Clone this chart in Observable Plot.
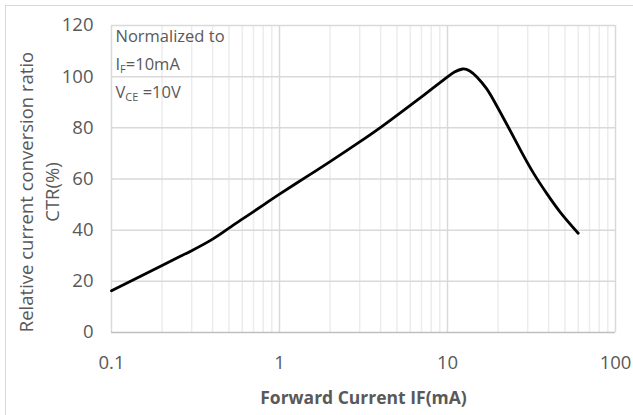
<!DOCTYPE html>
<html>
<head>
<meta charset="utf-8">
<script src="https://cdn.jsdelivr.net/npm/d3@7"></script>
<script src="https://cdn.jsdelivr.net/npm/@observablehq/plot@0.6"></script>
<style>
  html, body { margin: 0; padding: 0; background: #fff; }
  #wrap { position: relative; width: 633px; height: 415px; overflow: hidden; background: #fff; }
  #frame { position: absolute; left: 5px; top: 5px; width: 700px; height: 500px;
           border-left: 1.5px solid #d9d9d9; border-top: 1.5px solid #d9d9d9; }
  #chart { position: absolute; left: 0; top: 0; }
</style>
</head>
<body>
<div id="wrap"><div id="frame"></div><div id="chart"></div></div>
<script>
// Forward current IF (mA)
const current = [0.1, 0.15, 0.2, 0.25, 0.3, 0.4, 0.5, 0.6, 0.8, 1, 1.5, 2, 3, 4, 5, 6, 8, 10, 11, 12.3, 13.5, 15, 17, 19, 22.7, 27.2, 32.7, 39.3, 47.2, 60];
// Relative CTR (%)
const ctr = [16.3, 22.1, 26.2, 29.4, 32.0, 36.5, 40.8, 44.3, 49.8, 54.1, 61.5, 66.8, 74.5, 80.2, 84.9, 88.8, 95.0, 99.9, 101.8, 103.0, 102.3, 99.8, 95.5, 90.3, 81.0, 71.3, 62.0, 54.0, 46.8, 38.8];

const xTicks = [0.1, 1, 10, 100];
const xTickLabels = ["0.1", "1", "10", "100"];
const yTicks = [0, 20, 40, 60, 80, 100, 120];
const minorX = [0.2,0.3,0.4,0.5,0.6,0.7,0.8,0.9, 2,3,4,5,6,7,8,9, 20,30,40,50,60,70,80,90];

const xTitle = "Forward Current IF(mA)";
const yTitle = "Relative current conversion ratio\nCTR(%)";
const noteLines = ["Normalized to", "IF=10mA", "VCE =10V"];

const data = current.map((c, i) => ({c, v: ctr[i]}));
const font = "'Open Sans', 'Segoe UI', sans-serif";
const grey = "#595959";

const chart = Plot.plot({
  width: 633,
  height: 415,
  marginLeft: 111,
  marginRight: 18,
  marginTop: 25,
  marginBottom: 83,
  style: {fontFamily: font, fontSize: "18px", background: "transparent", color: grey},
  x: {type: "log", domain: [0.1, 100], axis: null},
  y: {domain: [0, 120], axis: null},
  marks: [
    Plot.ruleX(minorX, {stroke: "#ececec", strokeWidth: 1.5}),
    Plot.ruleX(xTicks, {stroke: "#d9d9d9", strokeWidth: 1.5}),
    Plot.ruleY(yTicks.filter(d => d > 0), {stroke: "#d9d9d9", strokeWidth: 1.5}),
    Plot.ruleY([0], {stroke: "#bfbfbf", strokeWidth: 1.5}),
    // tick labels
    Plot.text(xTicks, {x: d => d, frameAnchor: "bottom", dy: 31, text: d => xTickLabels[xTicks.indexOf(d)], fontSize: 18.5, fill: grey, lineAnchor: "middle"}),
    Plot.text(yTicks, {y: d => d, frameAnchor: "left", dx: -18, text: d => String(d), fontSize: 18.5, fill: grey, textAnchor: "end", lineAnchor: "middle"}),
    Plot.line(data, {x: "c", y: "v", stroke: "#000", strokeWidth: 2.8, curve: "natural"}),
    Plot.text([xTitle], {frameAnchor: "bottom", dy: 66, fontSize: 17.5, fontWeight: "bold", fill: grey, lineAnchor: "middle"}),
    Plot.text([yTitle], {frameAnchor: "left", rotate: -90, dx: -74, dy: 13, fontSize: 18.5, lineHeight: 1.4, fill: grey, textAnchor: "middle"}),
    Plot.text([noteLines[0]], {frameAnchor: "top-left", dx: 4, dy: 11, fontSize: 16.5, fill: grey, textAnchor: "start", lineAnchor: "middle"}),
    Plot.text([noteLines[1]], {frameAnchor: "top-left", dx: 4, dy: 39, fontSize: 16.5, fill: grey, textAnchor: "start", lineAnchor: "middle"}),
    Plot.text([noteLines[2]], {frameAnchor: "top-left", dx: 4, dy: 67, fontSize: 16.5, fill: grey, textAnchor: "start", lineAnchor: "middle"})
  ]
});

// add subscripts to annotation lines
d3.select(chart).selectAll("text").each(function() {
  const t = this.textContent;
  const sel = d3.select(this);
  if (t === noteLines[1] || t === noteLines[2]) {
    const holder = sel.select("tspan").empty() ? sel : sel.select("tspan");
    holder.text(null);
    const parts = t === noteLines[1] ? [["I", false], ["F", true], ["=10mA", false]] : [["V", false], ["CE", true], [" =10V", false]];
    parts.forEach(([s, sub], i) => {
      const ts = holder.append("tspan").text(s);
      if (sub) ts.attr("font-size", "11px").attr("dy", "3");
      else if (i > 0) ts.attr("dy", "-3");
    });
  }
});

document.getElementById("chart").appendChild(chart);
</script>
</body>
</html>
